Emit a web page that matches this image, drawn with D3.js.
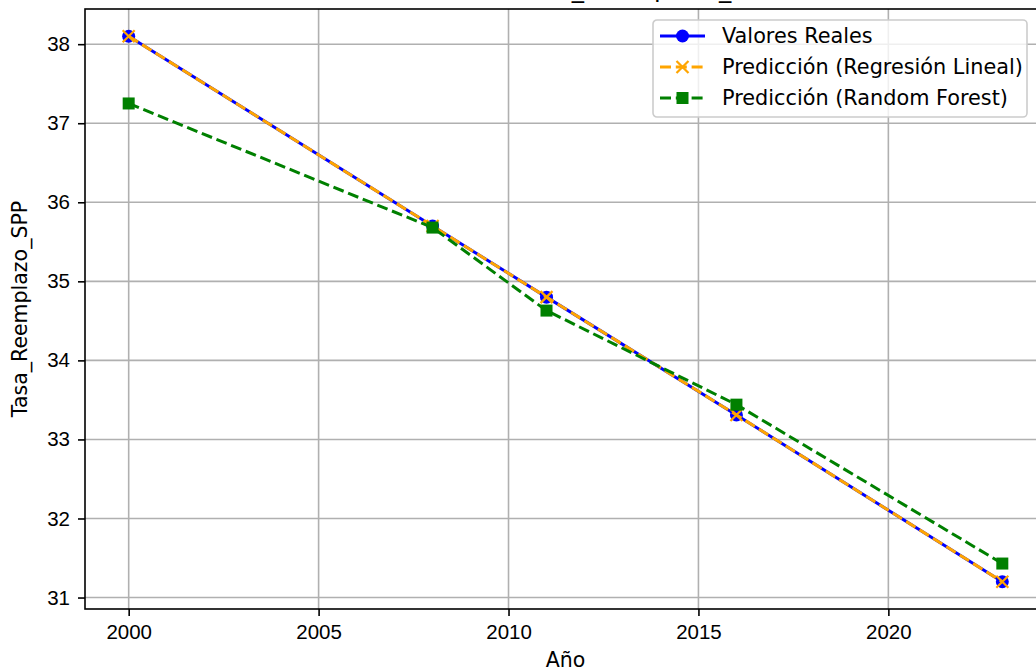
<!DOCTYPE html>
<html>
<head>
<meta charset="utf-8">
<script src="https://cdn.jsdelivr.net/npm/d3@7"></script>
<style>
  body { margin: 0; background: #fff; }
  svg { display: block; font-family: "DejaVu Sans", sans-serif; }
</style>
</head>
<body>
<div id="chart"></div>
<script>
// data
const years = [2000, 2008, 2011, 2016, 2023];
const realValues = [38.10, 35.70, 34.80, 33.31, 31.20];
const linearPred = [38.10, 35.70, 34.80, 33.31, 31.20];
const forestPred = [37.25, 35.68, 34.63, 33.44, 31.43];
const xTicks = [2000, 2005, 2010, 2015, 2020];
const yTicks = [31, 32, 33, 34, 35, 36, 37, 38];

const series = [
  { name: 'Valores Reales', values: realValues, color: '#0000ff', dash: null, marker: 'circle' },
  { name: 'Predicción (Regresión Lineal)', values: linearPred, color: '#ffa500', dash: '11,4.8', marker: 'x' },
  { name: 'Predicción (Random Forest)', values: forestPred, color: '#008000', dash: '11,4.8', marker: 'square' }
];

const W = 1036, H = 672;
const margin = { left: 85, top: 9, right: 1046, bottom: 609 };

// matplotlib style 5% padding
const allVals = realValues.concat(linearPred, forestPred);
const xExt = d3.extent(years), yExt = d3.extent(allVals);
const xPad = (xExt[1] - xExt[0]) * 0.05, yPad = (yExt[1] - yExt[0]) * 0.05;

const x = d3.scaleLinear().domain([xExt[0] - xPad, xExt[1] + xPad]).range([margin.left, margin.right]);
const y = d3.scaleLinear().domain([yExt[0] - yPad, yExt[1] + yPad]).range([margin.bottom, margin.top]);

const svg = d3.select('#chart').append('svg').attr('width', W).attr('height', H);

// grid
svg.append('g').selectAll('line').data(xTicks).enter().append('line')
    .attr('x1', d => x(d)).attr('x2', d => x(d))
    .attr('y1', margin.top).attr('y2', margin.bottom)
    .attr('stroke', '#b0b0b0').attr('stroke-width', 1.6);
svg.append('g').selectAll('line').data(yTicks).enter().append('line')
    .attr('x1', margin.left).attr('x2', margin.right)
    .attr('y1', d => y(d)).attr('y2', d => y(d))
    .attr('stroke', '#b0b0b0').attr('stroke-width', 1.6);

// axes
const xAxis = svg.append('g')
    .attr('transform', 'translate(0,' + margin.bottom + ')')
    .call(d3.axisBottom(x).tickValues(xTicks).tickFormat(d3.format('d')).tickSize(7).tickPadding(8));
const yAxis = svg.append('g')
    .attr('transform', 'translate(' + margin.left + ',0)')
    .call(d3.axisLeft(y).tickValues(yTicks).tickFormat(d3.format('d')).tickSize(7).tickPadding(8));
[xAxis, yAxis].forEach(a => {
  a.select('.domain').remove();
  a.selectAll('.tick line').attr('stroke', '#000').attr('stroke-width', 1.6);
  a.selectAll('.tick text').attr('fill', '#000').style('font-size', '20.5px');
});

// spines
svg.append('rect')
    .attr('x', margin.left).attr('y', margin.top)
    .attr('width', margin.right - margin.left).attr('height', margin.bottom - margin.top)
    .attr('fill', 'none').attr('stroke', '#000').attr('stroke-width', 1.6);

// lines
const line = d3.line().x(d => x(d[0])).y(d => y(d[1]));

function drawMarker(g, type, color, cx, cy) {
  if (type === 'circle') {
    g.append('circle').attr('cx', cx).attr('cy', cy).attr('r', 6.5).attr('fill', color);
  } else if (type === 'square') {
    g.append('rect').attr('x', cx - 6).attr('y', cy - 6).attr('width', 12).attr('height', 12).attr('fill', color);
  } else {
    g.append('path')
        .attr('d', `M${cx - 6},${cy - 6}L${cx + 6},${cy + 6}M${cx - 6},${cy + 6}L${cx + 6},${cy - 6}`)
        .attr('stroke', color).attr('stroke-width', 2.2).attr('fill', 'none');
  }
}

series.forEach(s => {
  const pts = years.map((yr, i) => [yr, s.values[i]]);
  const g = svg.append('g');
  g.append('path').datum(pts)
      .attr('d', line)
      .attr('fill', 'none')
      .attr('stroke', s.color)
      .attr('stroke-width', 3)
      .attr('stroke-dasharray', s.dash);
  pts.forEach(p => drawMarker(g, s.marker, s.color, x(p[0]), y(p[1])));
});

// title (mostly clipped above the picture)
svg.append('text')
    .attr('x', 518).attr('y', -3)
    .style('font-size', '24.5px')
    .text('Tasa_Reemplazo_SPP');

// axis labels
svg.append('text')
    .attr('x', (margin.left + margin.right) / 2).attr('y', 667)
    .attr('text-anchor', 'middle')
    .style('font-size', '20.5px')
    .text('Año');
svg.append('text')
    .attr('transform', 'translate(27,' + (margin.top + margin.bottom) / 2 + ') rotate(-90)')
    .attr('text-anchor', 'middle')
    .style('font-size', '20.5px')
    .text('Tasa_Reemplazo_SPP');

// legend
const legend = svg.append('g').attr('transform', 'translate(653,20)');
legend.append('rect')
    .attr('width', 374).attr('height', 97)
    .attr('rx', 4)
    .attr('fill', '#fff').attr('fill-opacity', 0.8)
    .attr('stroke', '#cccccc').attr('stroke-width', 1.6);
series.forEach((s, i) => {
  const row = legend.append('g').attr('transform', 'translate(0,' + (16 + i * 31) + ')');
  row.append('line')
      .attr('x1', 7).attr('x2', 52).attr('y1', 0).attr('y2', 0)
      .attr('stroke', s.color).attr('stroke-width', 3)
      .attr('stroke-dasharray', s.dash);
  drawMarker(row, s.marker, s.color, 29.5, 0);
  row.append('text')
      .attr('x', 69).attr('y', 0).attr('dy', '0.35em')
      .style('font-size', '20.8px')
      .attr('fill', '#000')
      .text(s.name);
});
</script>
</body>
</html>
